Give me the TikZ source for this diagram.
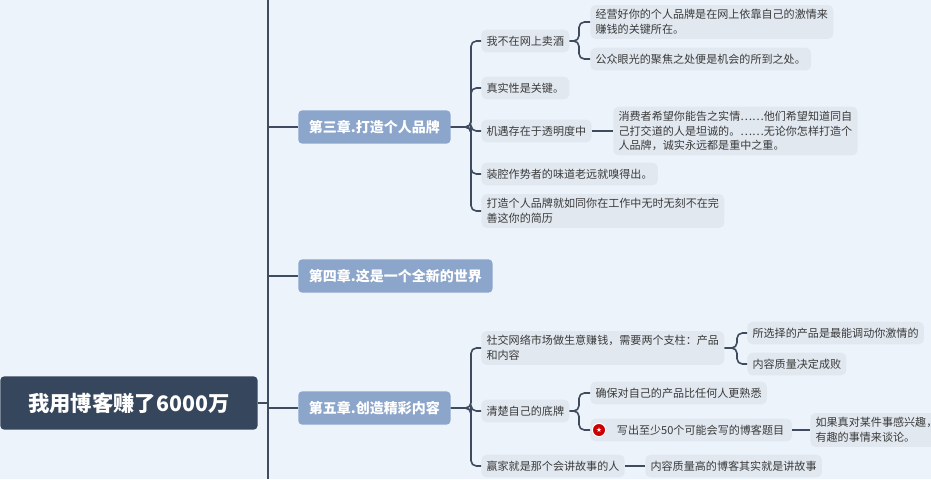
\documentclass[tikz,border=0pt]{standalone}
\usepackage{fontspec}
\setmainfont{Noto Sans CJK SC}
\newfontfamily\symfont{DejaVu Sans}
\usetikzlibrary{positioning}
\definecolor{bgcol}{HTML}{EDF3FA}
\definecolor{leafcol}{HTML}{E1E8F0}
\definecolor{chapcol}{HTML}{8CA5CB}
\definecolor{rootcol}{HTML}{36465D}
\definecolor{linecol}{HTML}{3F4C5F}
\definecolor{textcol}{HTML}{3A3A3A}
\tikzset{%
    root node/.style={
        fill=rootcol, rounded corners=3pt, text=white,
        font=\fontsize{16}{19}\selectfont\bfseries,
        minimum width=193pt, minimum height=40pt, anchor=west
    },
    chapter node/.style={
        fill=chapcol, rounded corners=3pt, text=white,
        font=\fontsize{10.5}{13}\selectfont\bfseries,
        minimum height=25pt, inner xsep=8pt, anchor=west
    },
    leaf node/.style={
        fill=leafcol, rounded corners=4pt, text=textcol,
        font=\fontsize{8.3}{11}\selectfont, align=left,
        minimum height=17pt, inner xsep=4pt, anchor=west
    },
    branch/.style={
        draw=linecol, line width=1.2pt, rounded corners=4pt
    },
}
\begin{document}
\begin{tikzpicture}[x=0.75pt, y=-0.75pt]
        \useasboundingbox[fill=bgcol] (0,0) rectangle (931,479);

        % trunk and root
        \coordinate (trunk-top) at (268,0);
        \coordinate (trunk-bottom) at (268,479);
        \draw [branch, line width=1.6pt] (trunk-top) -- (trunk-bottom);
        \node [root node] (root) at (0,403) {我用博客赚了6000万};
        \draw [branch] (root.east) -- (trunk-bottom |- root.east);

        % chapters
        \node [chapter node] (ch3) at (298,127) {第三章.打造个人品牌};
        \node [chapter node] (ch4) at (298,276) {第四章.这是一个全新的世界};
        \node [chapter node] (ch5) at (298,408) {第五章.创造精彩内容};
        \foreach \c in {ch3,ch4,ch5}
            \draw [branch] (trunk-top |- \c.west) -- (\c.west);

        % chapter three
        \node [leaf node] (c3-1) at (481,41) {我不在网上卖酒};
        \node [leaf node] (c3-2) at (481,88) {真实性是关键。};
        \node [leaf node] (c3-3) at (481,131) {机遇存在于透明度中};
        \node [leaf node] (c3-4) at (481,174) {装腔作势者的味道老远就嗅得出。};
        \node [leaf node] (c3-5) at (481,211) {打造个人品牌就如同你在工作中无时无刻不在完\\善这你的简历};
        \foreach \i in {1,...,5}
            \draw [branch] (ch3.east) -- (471,127) |- (c3-\i.west);

        \node [leaf node] (c3-1-1) at (590,22) {经营好你的个人品牌是在网上依靠自己的激情来\\赚钱的关键所在。};
        \node [leaf node] (c3-1-2) at (590,59) {公众眼光的聚焦之处便是机会的所到之处。};
        \foreach \i in {1,2}
            \draw [branch] (c3-1.east) -- (579,41) |- (c3-1-\i.west);

        \node [leaf node] (c3-3-1) at (613,131) {消费者希望你能告之实情……他们希望知道同自\\己打交道的人是坦诚的。……无论你怎样打造个\\人品牌，诚实永远都是重中之重。};
        \draw [branch] (c3-3.east) -- (c3-3-1.west);

        % chapter five
        \node [leaf node] (c5-1) at (481,348) {社交网络市场做生意赚钱，需要两个支柱：产品\\和内容};
        \node [leaf node] (c5-2) at (481,411) {清楚自己的底牌};
        \node [leaf node] (c5-3) at (481,466) {赢家就是那个会讲故事的人};
        \foreach \i in {1,...,3}
            \draw [branch] (ch5.east) -- (471,408) |- (c5-\i.west);

        \node [leaf node] (c5-1-1) at (747,333) {所选择的产品是最能调动你激情的};
        \node [leaf node] (c5-1-2) at (747,364) {内容质量决定成败};
        \foreach \i in {1,2}
            \draw [branch] (c5-1.east) -- (737,348) |- (c5-1-\i.west);

        \node [leaf node] (c5-2-1) at (590,393) {确保对自己的产品比任何人更熟悉};
        \node [leaf node, inner xsep=6pt] (c5-2-2) at (590,430) {\hspace{14pt}写出至少50个可能会写的博客题目};
        \foreach \i in {1,2}
            \draw [branch] (c5-2.east) -- (579,411) |- (c5-2-\i.west);
        \node [circle, fill=red!80!black, draw=white, line width=0.8pt, inner sep=1.5pt,
            text=white, font=\symfont\fontsize{5}{5}\selectfont] (star) at (599,430) {★};

        \node [leaf node] (c5-2-2-1) at (810,430) {如果真对某件事感兴趣，\\有趣的事情来谈论。};
        \draw [branch] (c5-2-2.east) -- (c5-2-2-1.west);

        \node [leaf node] (c5-3-1) at (645,466) {内容质量高的博客其实就是讲故事};
        \draw [branch] (c5-3.east) -- (c5-3-1.west);

\end{tikzpicture}
\end{document}
